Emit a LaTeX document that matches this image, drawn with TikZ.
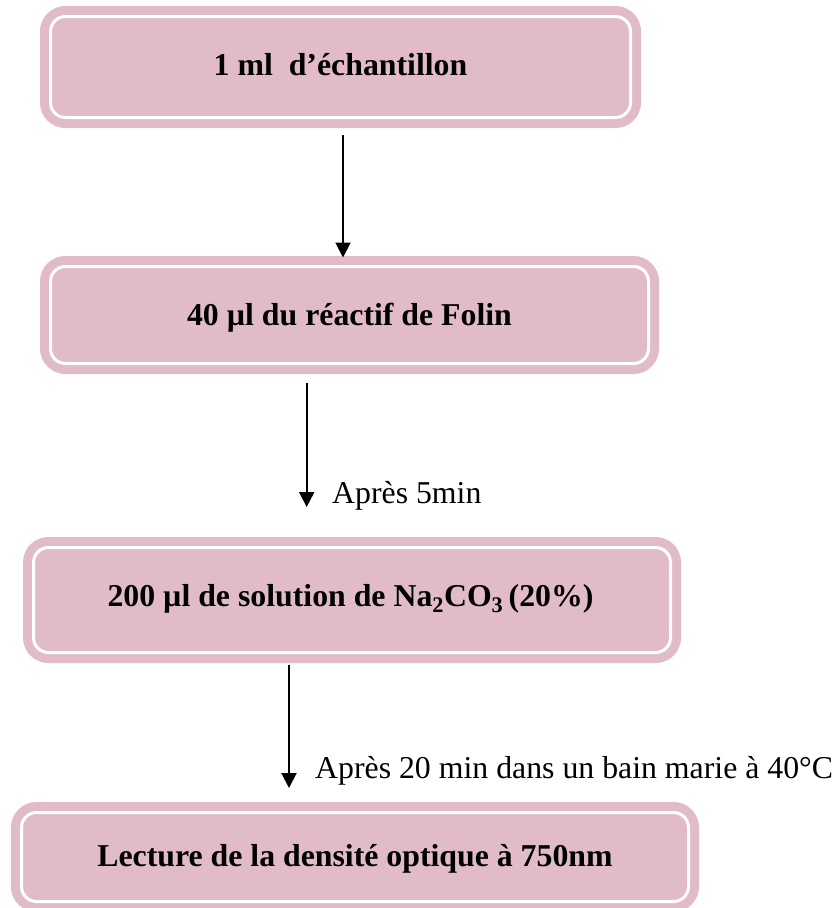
\documentclass[tikz,border=0pt]{standalone}
\usepackage{fontspec}
\setmainfont{Liberation Serif}
\usetikzlibrary{arrows.meta}
\definecolor{boxpink}{RGB}{225,188,200}
\tikzset{
  stagebox/.style={draw=boxpink, fill=boxpink, line width=9pt, double=white,
    double distance=3pt, rounded corners=15pt, rectangle, inner sep=0pt,
    outer sep=0pt},
  stagetext/.style={anchor=base, inner sep=0pt, font=\fontsize{31.8pt}{38pt}\selectfont\bfseries},
  steptext/.style={anchor=base west, inner sep=0pt, font=\fontsize{31.8pt}{38pt}\selectfont},
  flow/.style={line width=2pt, -{Triangle[width=15pt,length=15pt]}}
}
\begin{document}
\begin{tikzpicture}[x=1pt,y=-1pt]
\useasboundingbox (0,0) rectangle (839,908);

% the four stages of the protocol
\node[stagebox, minimum width=580pt, minimum height=101pt] (b1) at (340.5,67) {};
\node[stagebox, minimum width=598pt, minimum height=97pt]  (b2) at (349.5,315) {};
\node[stagebox, minimum width=637pt, minimum height=105pt] (b3) at (352,600) {};
\node[stagebox, minimum width=667pt, minimum height=89pt]  (b4) at (355,857) {};

\node[stagetext] (t1) at ([yshift=-8pt]b1.center) {1 ml\ \ d’échantillon};
\node[stagetext] (t2) at ([yshift=-10pt]b2.center) {40 µl du réactif de Folin};
\node[stagetext] (t3) at ([xshift=-1.5pt,yshift=-6pt]b3.center) {200 µl de solution de Na\textsubscript{2}CO\textsubscript{3}\,(20\%)};
\node[stagetext] (t4) at ([yshift=-9pt]b4.center) {Lecture de la densité optique à 750nm};

% connectors between stages
\draw[flow] ([xshift=2.5pt,yshift=-17.5pt]b1.south) -- ([xshift=-6.5pt,yshift=9pt]b2.north);
\draw[flow] ([xshift=-42.8pt,yshift=-19.5pt]b2.south) -- ([xshift=-45.3pt,yshift=40.5pt]b3.north);
\draw[flow] ([xshift=-63pt,yshift=-12.5pt]b3.south) -- ([xshift=-66pt,yshift=24.5pt]b4.north);

% waiting times
\node[steptext] (l1) at (332,503) {Après 5min};
\node[steptext] (l2) at (315,778) {Après 20 min dans un bain marie à 40°C};
\end{tikzpicture}
\end{document}
